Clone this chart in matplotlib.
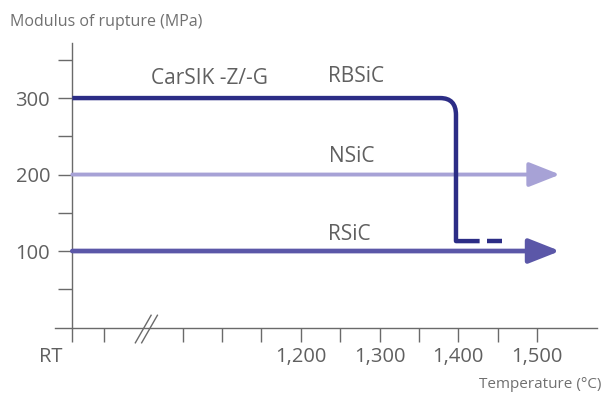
"""Modulus of rupture vs temperature for SiC grades."""

import matplotlib
matplotlib.use("Agg")
import matplotlib.pyplot as plt
from matplotlib.path import Path
from matplotlib.patches import PathPatch
import matplotlib.transforms as mtransforms

plt.rcParams["font.family"] = ["Open Sans", "DejaVu Sans"]

# data (x in degC; RT is drawn at the axis origin)
rt_pos = 910
x_start = 888
x_end = 1576
arrow_tip = 1529

rbsic_level = 300
rbsic_drop_t = 1397
rbsic_low = 113
rbsic_solid_end = 1427
rbsic_dash = [1436, 1455]

nsic_level = 200
rsic_level = 100

x_ticks = [910, 950, 1050, 1100, 1150, 1200, 1250, 1300, 1350, 1400, 1450, 1500]
x_labels = ["", "", "", "", "", "1,200", "", "1,300", "", "1,400", "", "1,500"]
y_ticks = [50, 100, 150, 200, 250, 300, 350]
y_labels = ["", "100", "", "200", "", "300", ""]

c_rb = "#2c2d86"
c_ns = "#a7a2d6"
c_rs = "#5b57a8"
c_txt = "#606060"
c_ax = "#6a6a6a"

fig = plt.figure(figsize=(6.05, 3.94), dpi=100)
ax = fig.add_axes([55 / 605, 1 - 327.5 / 394, (597 - 55) / 605, (327.5 - 43) / 394])
ax.set_xlim(x_start, x_end)
ax.set_ylim(0, 372)

for s in ["top", "right"]:
    ax.spines[s].set_visible(False)
ax.spines["left"].set_position(("data", rt_pos))
for s in ["left", "bottom"]:
    ax.spines[s].set_color(c_ax)
    ax.spines[s].set_linewidth(1.0)

ax.set_xticks(x_ticks)
ax.set_xticklabels(x_labels)
ax.set_yticks(y_ticks)
ax.set_yticklabels(y_labels)
ax.tick_params(axis="x", direction="out", length=10, width=1.0, color=c_ax,
               labelsize=14.5, labelcolor=c_txt, pad=4)
ax.tick_params(axis="y", direction="out", length=10, width=1.0, color=c_ax,
               labelsize=14.5, labelcolor=c_txt, pad=6)

# RBSiC: flat, rounded corner, drop, short dashed tail
corner = 20
verts = [(rt_pos, rbsic_level), (rbsic_drop_t - corner, rbsic_level),
         (rbsic_drop_t, rbsic_level), (rbsic_drop_t, rbsic_level - corner * 1.1),
         (rbsic_drop_t, rbsic_low), (rbsic_solid_end, rbsic_low)]
codes = [Path.MOVETO, Path.LINETO, Path.CURVE3, Path.CURVE3, Path.LINETO, Path.LINETO]
ax.add_patch(PathPatch(Path(verts, codes), fill=False, edgecolor=c_rb, lw=3.2,
                       joinstyle="round", capstyle="butt", zorder=4))
ax.plot(rbsic_dash, [rbsic_low, rbsic_low], color=c_rb, lw=3.2,
        solid_capstyle="butt", zorder=4)

# NSiC and RSiC arrows
for level, col, lw in [(nsic_level, c_ns, 2.8), (rsic_level, c_rs, 3.4)]:
    ax.annotate("", xy=(arrow_tip, level), xytext=(rt_pos, level),
                arrowprops=dict(arrowstyle="-|>,head_length=19,head_width=7.5",
                                mutation_scale=1, color=col, lw=lw,
                                shrinkA=0, shrinkB=0), zorder=3)

# series labels
lab_kw = dict(fontsize=15, color=c_txt, ha="center", va="center")
ax.text(1084, 326, "CarSIK -Z/-G", **lab_kw)
ax.text(1270, 328, "RBSiC", **lab_kw)
ax.text(1265, 223, "NSiC", **lab_kw)
ax.text(1262, 121, "RSiC", **lab_kw)

# RT label under the origin
trans = mtransforms.blended_transform_factory(ax.transData, ax.transAxes)
ax.text(rt_pos - 12, -0.105, "RT", transform=trans, fontsize=14.5, color=c_txt,
        ha="right", va="center")

# axis break marks
for dx in [0, 8]:
    ax.plot([1000 + dx - 10, 1000 + dx + 10], [-20, 16], color=c_ax, lw=1.0,
            clip_on=False)

fig.text(10 / 605, 1 - 22 / 394, "Modulus of rupture (MPa)", fontsize=11.5,
         color="#707070", ha="left", va="center")
fig.text(601 / 605, 1 - 392 / 394, "Temperature (\u00b0C)", fontsize=11,
         color="#707070", ha="right", va="bottom")

fig.savefig("out.png", dpi=100, facecolor="white")
